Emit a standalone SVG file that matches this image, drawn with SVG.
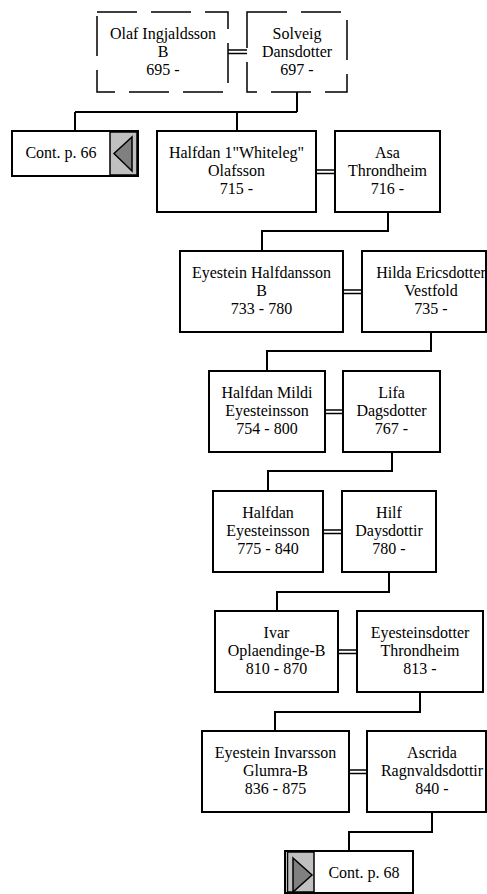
<svg xmlns="http://www.w3.org/2000/svg" width="487" height="894" viewBox="0 0 487 894">
<style>
  .box { fill: #ffffff; stroke: #000000; stroke-width: 2; }
  .dash { fill: #ffffff; stroke: #000000; stroke-width: 1.5; stroke-dasharray: 40 14; }
  .gray { fill: #c0c0c0; stroke: #000000; stroke-width: 1.5; }
  .tri { fill: #808080; stroke: #000000; stroke-width: 1.5; }
  .conn { fill: none; stroke: #000000; stroke-width: 2; }
  .marr { fill: none; stroke: #000000; stroke-width: 1.5; }
  text { font-family: "Liberation Serif", "Times New Roman", serif; font-size: 16px; fill: #000000; text-anchor: middle; }
</style>
<rect x="0" y="0" width="487" height="894" fill="#ffffff"/>

<g id="connectors">
  <path class="conn" d="M297,92 V112 M75,112 H297 M75,112 V131 M237,112 V131"/>
  <path class="conn" d="M388,212 V231 H262 V251"/>
  <path class="conn" d="M431,332 V351 H267 V371"/>
  <path class="conn" d="M392,452 V471 H268 V491"/>
  <path class="conn" d="M389,572 V592 H277 V611"/>
  <path class="conn" d="M420,692 V712 H275 V731"/>
  <path class="conn" d="M432,812 V832 H349 V851"/>
  <path class="marr" d="M228,50 H247 M228,53.5 H247"/>
  <path class="marr" d="M316,170 H335 M316,173.5 H335"/>
  <path class="marr" d="M343,290 H362 M343,293.5 H362"/>
  <path class="marr" d="M325,410 H343 M325,413.5 H343"/>
  <path class="marr" d="M323,530 H342 M323,533.5 H342"/>
  <path class="marr" d="M338,650 H357 M338,653.5 H357"/>
  <path class="marr" d="M349,770 H367 M349,773.5 H367"/>
</g>

<g id="olaf">
  <rect class="dash" x="97" y="12" width="131" height="80"/>
  <text x="163" y="39">Olaf Ingjaldsson</text>
  <text x="163" y="57">B</text>
  <text x="163" y="75">695 -</text>
</g>
<g id="solveig">
  <rect class="dash" x="247" y="12" width="100" height="80"/>
  <text x="297" y="39">Solveig</text>
  <text x="297" y="57">Dansdotter</text>
  <text x="297" y="75">697 -</text>
</g>

<g id="cont66">
  <rect class="box" x="12" y="131" width="126" height="45"/>
  <rect class="gray" x="110" y="132" width="27" height="43"/>
  <polygon class="tri" points="114,153.5 132,137 132,171"/>
  <text x="61" y="158">Cont. p. 66</text>
</g>

<g id="halfdan-whiteleg">
  <rect class="box" x="157" y="131" width="159" height="81"/>
  <text x="236.5" y="158">Halfdan 1"Whiteleg"</text>
  <text x="236.5" y="176">Olafsson</text>
  <text x="236.5" y="194">715 -</text>
</g>
<g id="asa">
  <rect class="box" x="335" y="131" width="105" height="81"/>
  <text x="387.5" y="158">Asa</text>
  <text x="387.5" y="176">Throndheim</text>
  <text x="387.5" y="194">716 -</text>
</g>

<g id="eyestein-halfdansson">
  <rect class="box" x="180" y="251" width="163" height="81"/>
  <text x="261.5" y="278">Eyestein Halfdansson</text>
  <text x="261.5" y="296">B</text>
  <text x="261.5" y="314">733 - 780</text>
</g>
<g id="hilda">
  <rect class="box" x="362" y="251" width="124" height="81"/>
  <text x="431" y="278">Hilda Ericsdotter</text>
  <text x="431" y="296">Vestfold</text>
  <text x="431" y="314">735 -</text>
</g>

<g id="halfdan-mildi">
  <rect class="box" x="209" y="371" width="116" height="81"/>
  <text x="267" y="398">Halfdan Mildi</text>
  <text x="267" y="416">Eyesteinsson</text>
  <text x="267" y="434">754 - 800</text>
</g>
<g id="lifa">
  <rect class="box" x="343" y="371" width="97" height="81"/>
  <text x="391.5" y="398">Lifa</text>
  <text x="391.5" y="416">Dagsdotter</text>
  <text x="391.5" y="434">767 -</text>
</g>

<g id="halfdan-eyesteinsson">
  <rect class="box" x="213" y="491" width="110" height="81"/>
  <text x="268" y="518">Halfdan</text>
  <text x="268" y="536">Eyesteinsson</text>
  <text x="268" y="554">775 - 840</text>
</g>
<g id="hilf">
  <rect class="box" x="342" y="491" width="94" height="81"/>
  <text x="389" y="518">Hilf</text>
  <text x="389" y="536">Daysdottir</text>
  <text x="389" y="554">780 -</text>
</g>

<g id="ivar">
  <rect class="box" x="215" y="611" width="123" height="81"/>
  <text x="276.5" y="638">Ivar</text>
  <text x="276.5" y="656">Oplaendinge-B</text>
  <text x="276.5" y="674">810 - 870</text>
</g>
<g id="eyesteinsdotter">
  <rect class="box" x="357" y="611" width="126" height="81"/>
  <text x="420" y="638">Eyesteinsdotter</text>
  <text x="420" y="656">Throndheim</text>
  <text x="420" y="674">813 -</text>
</g>

<g id="eyestein-invarsson">
  <rect class="box" x="202" y="731" width="147" height="81"/>
  <text x="275.5" y="758">Eyestein Invarsson</text>
  <text x="275.5" y="776">Glumra-B</text>
  <text x="275.5" y="794">836 - 875</text>
</g>
<g id="ascrida">
  <rect class="box" x="367" y="731" width="119" height="81"/>
  <text x="432" y="758">Ascrida</text>
  <text x="432" y="776">Ragnvaldsdottir</text>
  <text x="432" y="794">840 -</text>
</g>

<g id="cont68">
  <rect class="box" x="285" y="851" width="128" height="42"/>
  <rect class="gray" x="287.5" y="852" width="26.5" height="40"/>
  <polygon class="tri" points="293,858 312,875 293,892"/>
  <text x="364" y="878">Cont. p. 68</text>
</g>
</svg>
